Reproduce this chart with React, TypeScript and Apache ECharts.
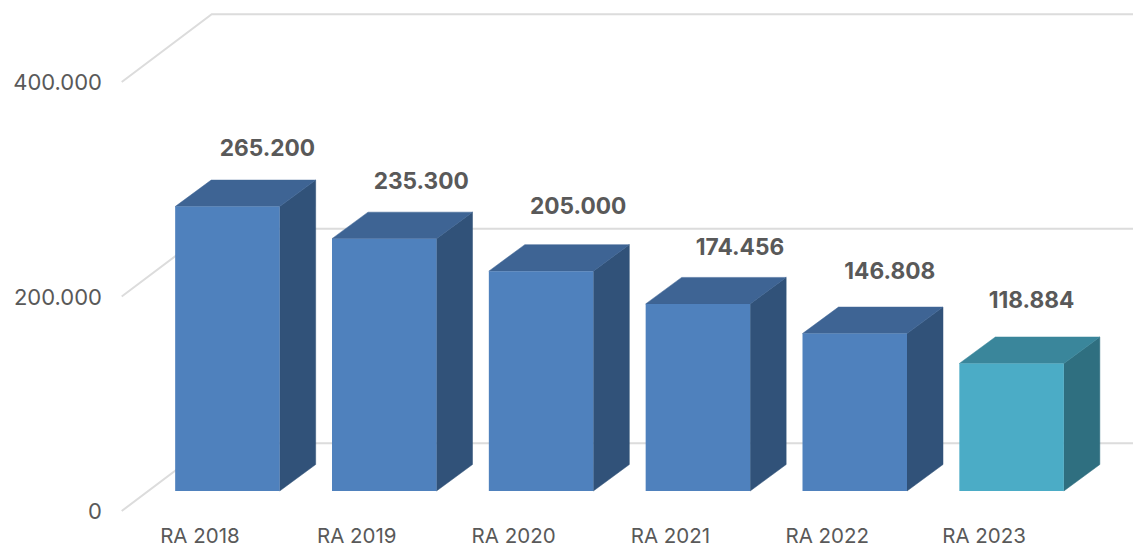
import React, { useEffect, useRef } from "react";
import * as echarts from "echarts";

const categories = ["RA 2018", "RA 2019", "RA 2020", "RA 2021", "RA 2022", "RA 2023"];
const values = [265200, 235300, 205000, 174456, 146808, 118884];
const yTicks = [0, 200000, 400000];
// hand-placed label nudges, measured from the top-back centre of each bar
const labelNudgeX = [22, 19, 19, 24, 17, 2];
const labelNudgeY = [-32.5, -31.5, -39.5, -30.5, -36.5, -37];

const FONT = "Inter, 'Open Sans', sans-serif";
const DEPTH_X = 36;
const DEPTH_Y = -26.5;
const BAR_W = 104.5;
const FLOOR_OFFSET_Y = -20;
const WALL_DX = 90;
const WALL_DY = -67.7;
const PALETTE = [
  { front: "#4f81bd", side: "#315279", top: "#3e6494" },
  { front: "#4bacc6", side: "#2f6f80", top: "#3a869b" },
];

const fmt = (v: number) => (v === 0 ? "0" : v.toLocaleString("de-DE", { minimumFractionDigits: 0 }));

function App() {
  const ref = useRef<HTMLDivElement>(null);
  useEffect(() => {
    const chart = echarts.init(ref.current!, undefined, { renderer: "svg" });
    chart.setOption({
      animation: false,
      backgroundColor: "#ffffff",
      grid: { left: 149, right: 43, top: 82, bottom: 36, containLabel: false },
      xAxis: {
        type: "category",
        data: categories,
        axisLine: { show: false },
        axisTick: { show: false },
        axisLabel: {
          color: "#595959",
          fontFamily: FONT,
          fontSize: 20.5,
          lineHeight: 20,
          margin: 14,
          padding: [0, 55, 0, 0],
          interval: 0,
        },
      },
      yAxis: {
        type: "value",
        min: 0,
        max: 400000,
        interval: 200000,
        splitLine: { show: false },
        axisLine: { show: false },
        axisTick: { show: false },
        axisLabel: {
          color: "#595959",
          fontFamily: FONT,
          fontSize: 22,
          margin: 47,
          formatter: (v: number) => fmt(v),
        },
      },
      series: [
        {
          type: "custom",
          name: "walls",
          silent: true,
          z: 1,
          clip: false,
          data: yTicks.map((t) => [0, t]),
          renderItem: (_p: any, api: any) => {
            const y = api.coord([0, api.value(1)])[1];
            const x0 = 121.7;
            const xEnd = 1133;
            const style = { stroke: "#dcdcdc", lineWidth: 2, fill: "none" };
            return {
              type: "polyline",
              shape: { points: [[x0, y], [x0 + WALL_DX, y + WALL_DY], [xEnd, y + WALL_DY]] },
              style,
            };
          },
        },
        {
          type: "custom",
          name: "bars",
          silent: true,
          z: 3,
          clip: false,
          data: values.map((v, i) => [i, v]),
          renderItem: (_p: any, api: any) => {
            const i = api.value(0);
            const v = api.value(1);
            const [cx, yTop0] = api.coord([i, v]);
            const [, yBase0] = api.coord([i, 0]);
            const yTop = yTop0 + FLOOR_OFFSET_Y;
            const yBase = yBase0 + FLOOR_OFFSET_Y;
            const l = cx - BAR_W / 2;
            const r = cx + BAR_W / 2;
            const c = PALETTE[i === values.length - 1 ? 1 : 0];
            return {
              type: "group",
              children: [
                {
                  type: "polygon",
                  shape: { points: [[r, yTop], [r + DEPTH_X, yTop + DEPTH_Y], [r + DEPTH_X, yBase + DEPTH_Y], [r, yBase]] },
                  style: { fill: c.side, stroke: c.side, lineWidth: 0.5 },
                },
                {
                  type: "polygon",
                  shape: { points: [[l, yTop], [l + DEPTH_X, yTop + DEPTH_Y], [r + DEPTH_X, yTop + DEPTH_Y], [r, yTop]] },
                  style: { fill: c.top, stroke: c.top, lineWidth: 0.5 },
                },
                {
                  type: "rect",
                  shape: { x: l, y: yTop, width: BAR_W, height: yBase - yTop },
                  style: { fill: c.front },
                },
                {
                  type: "text",
                  x: cx + DEPTH_X / 2 + labelNudgeX[i],
                  y: yTop + DEPTH_Y + labelNudgeY[i],
                  style: {
                    text: fmt(v),
                    fill: "#595959",
                    font: `700 22.7px ${FONT}`,
                    align: "center",
                    verticalAlign: "middle",
                  },
                },
              ],
            };
          },
        },
      ],
    });
    return () => chart.dispose();
  }, []);
  return <div ref={ref} style={{ position: "absolute", left: 0, top: 0, width: 1133, height: 547 }} />;
}

export default App;
